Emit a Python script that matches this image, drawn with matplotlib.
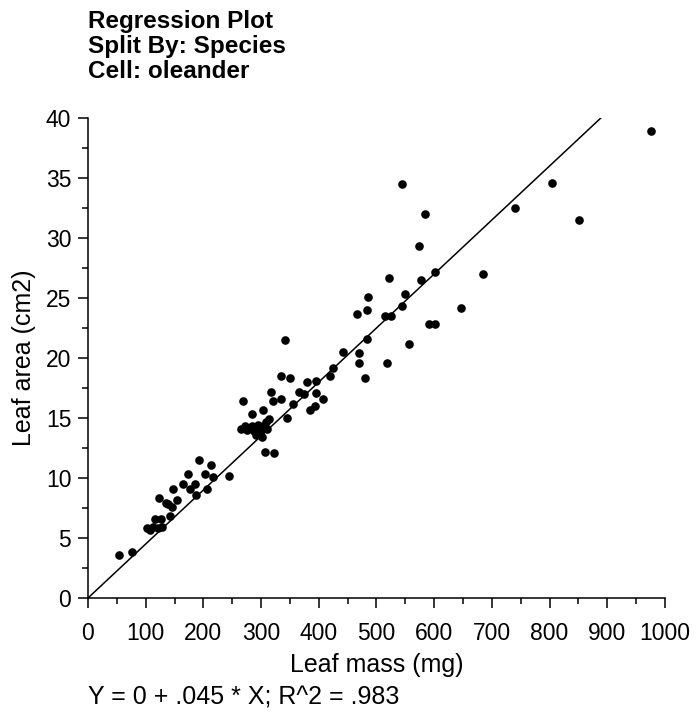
import numpy as np
from matplotlib import pyplot as plt
from matplotlib.ticker import MultipleLocator

plt.rcParams['font.family'] = ['Liberation Sans', 'DejaVu Sans']

# 叶片质量 (mg) 与叶面积 (cm2)
leaf_mass = [54, 77, 102, 107, 112, 116, 122, 126, 129, 123, 135, 139, 142, 145,
             148, 154, 164, 174, 177, 185, 188, 192, 203, 206, 213, 216, 244,
             266, 268, 272, 275, 284, 285, 287, 289, 292, 295, 298, 301, 303,
             304, 307, 308, 310, 314, 317, 321, 322, 334, 334, 341, 345, 351,
             355, 366, 374, 379, 384, 393, 395, 396, 407, 420, 424, 442, 469,
             469, 467, 480, 483, 483, 485, 515, 518, 522, 525, 545, 545, 549,
             557, 574, 577, 584, 591, 601, 601, 646, 684, 740, 805, 851, 975]
leaf_area = [3.6, 3.8, 5.8, 5.7, 5.9, 6.6, 5.8, 6.6, 5.9, 8.3, 7.9, 7.8, 6.8, 7.6,
             9.1, 8.2, 9.5, 10.3, 9.1, 9.5, 8.6, 11.5, 10.3, 9.1, 11.1, 10.1, 10.2,
             14.1, 16.4, 14.3, 14.0, 14.3, 15.3, 13.9, 14.0, 13.6, 14.4, 13.9, 13.4, 15.7,
             14.3, 12.2, 14.7, 14.1, 14.9, 17.2, 16.4, 12.1, 18.5, 16.6, 21.5, 15.0, 18.3,
             16.2, 17.2, 17.0, 18.0, 15.7, 16.0, 18.1, 17.1, 16.6, 18.5, 19.2, 20.5, 20.4,
             19.6, 23.7, 18.3, 21.6, 24.0, 25.1, 23.5, 19.6, 26.7, 23.5, 24.3, 34.5, 25.3,
             21.2, 29.3, 26.5, 32.0, 22.8, 22.8, 27.2, 24.2, 27.0, 32.5, 34.6, 31.5, 38.9]

# 回归结果
intercept = 0
slope = 0.045
r2 = 0.983

fig = plt.figure(figsize=(6.96, 7.15), dpi=100)
ax = fig.add_axes([0.1264, 0.1636, 0.829, 0.6714])

ax.plot(leaf_mass, leaf_area, 'o', color='black', markersize=6.2, markeredgewidth=0)
line_x = np.array([0, (40 - intercept) / slope])
ax.plot(line_x, intercept + slope * line_x, color='black', linewidth=1.1)

ax.set_xlim(0, 1000)
ax.set_ylim(0, 40)
ax.xaxis.set_major_locator(MultipleLocator(100))
ax.xaxis.set_minor_locator(MultipleLocator(50))
ax.yaxis.set_major_locator(MultipleLocator(5))
ax.yaxis.set_minor_locator(MultipleLocator(2.5))
ax.tick_params(which='major', direction='out', length=7, width=1.1, labelsize=16.5, pad=5)
ax.tick_params(axis='x', which='major', pad=10)
ax.tick_params(which='minor', direction='out', length=4, width=1.1)
ax.spines['top'].set_visible(False)
ax.spines['right'].set_visible(False)
ax.spines['left'].set_linewidth(1.1)
ax.spines['bottom'].set_linewidth(1.1)

ax.set_xlabel('Leaf mass (mg)', fontsize=18, labelpad=6)
ax.set_ylabel('Leaf area (cm2)', fontsize=18, labelpad=7)

fig.text(0.1264, 0.986, 'Regression Plot\nSplit By: Species\nCell: oleander',
         fontsize=17.5, fontweight='bold', va='top', ha='left', linespacing=1.1)
fig.text(0.1264, 0.024, 'Y = 0 + .045 * X; R^2 = .983', fontsize=18,
         va='center', ha='left')

fig.savefig('out.png', dpi=100)
